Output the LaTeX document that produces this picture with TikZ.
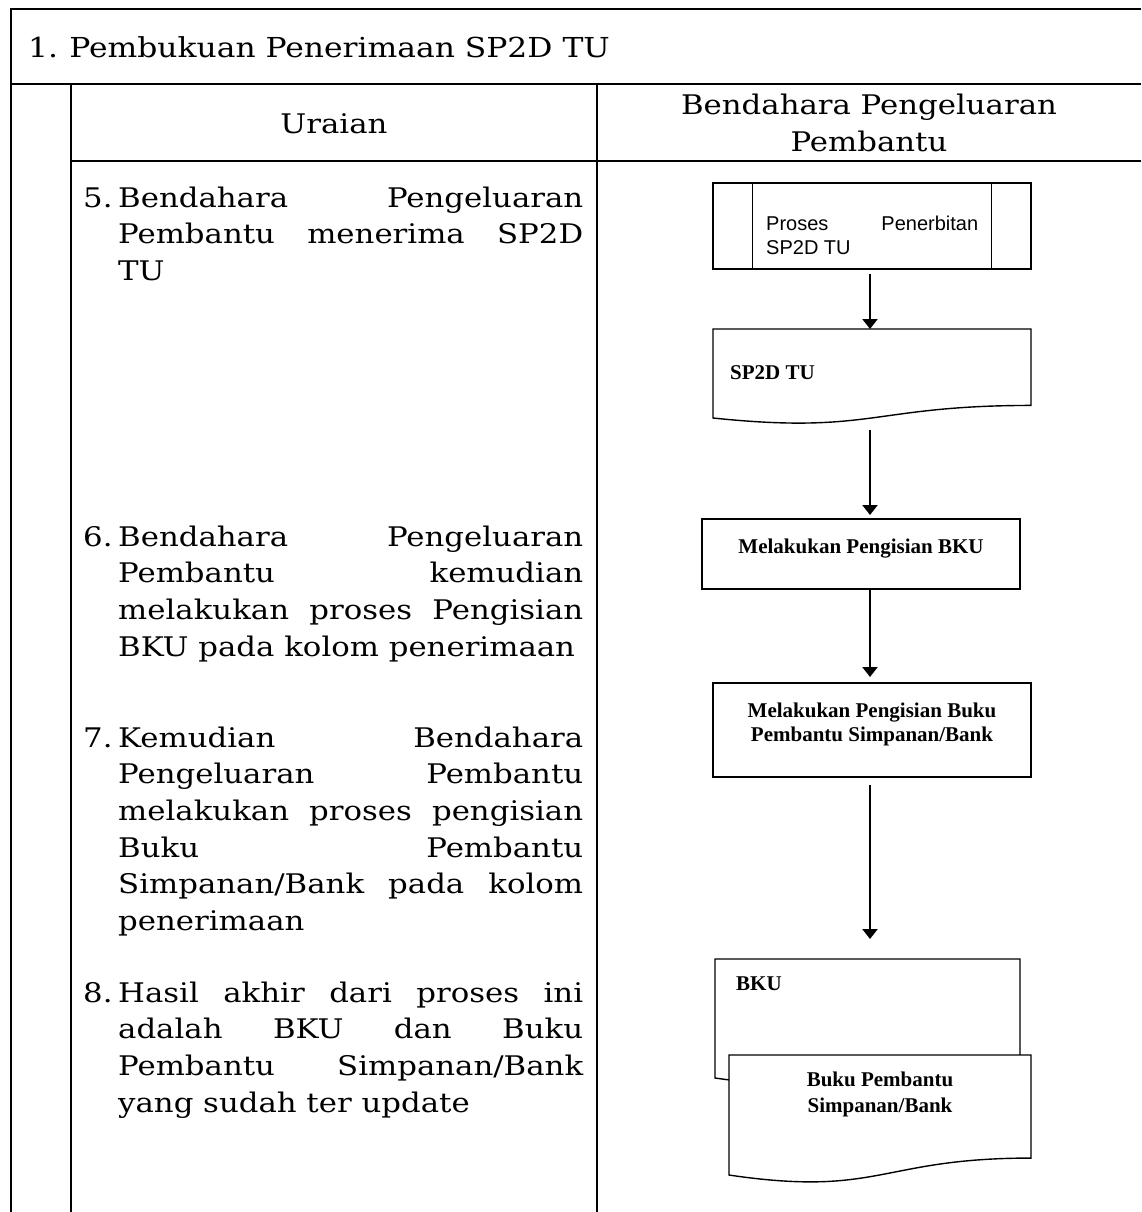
\documentclass[tikz,border=0pt]{standalone}
\usepackage{fontspec}
\setmainfont{DejaVu Serif}[FakeStretch=1.14]
\newfontfamily\arialf{Liberation Sans}
\newfontfamily\timesf{Liberation Serif}
\usetikzlibrary{arrows.meta,calc}
\newcommand\itemtext[2]{\parbox[t]{500pt}{\hyphenpenalty=10000\exhyphenpenalty=10000
  \hangindent=35pt\hangafter=1\noindent\makebox[35pt][l]{#1}#2\par}}
\newcommand\docpath[1]{%
  \draw[shapeline,fill=white] (#1.north west) -- (#1.north east)
    -- ($(#1.north east)!0.802!(#1.south east)$)
    .. controls ($(#1.north)!0.802!(#1.south)$) and ($(#1.north)!1.1075!(#1.south)$)
    .. ($(#1.north west)!0.934!(#1.south west)$) -- cycle;}
\tikzset{
  tableline/.style={line width=2pt},
  shapeline/.style={line width=1.4pt},
  arr/.style={line width=2.2pt,-{Triangle[length=10pt,width=15pt]}},
  boxnode/.style={inner sep=0pt,outer sep=0pt},
  bodyfont/.style={font=\fontsize{27}{36.7}\selectfont},
  boldfont/.style={font=\timesf\bfseries\fontsize{21}{24}\selectfont},
}
\begin{document}
\begin{tikzpicture}[x=1pt,y=-1pt]
\useasboundingbox (0,0) rectangle (1141,1212);
% table
\draw[tableline] (11,1212) -- (11,9) -- (1141,9);
\draw[tableline] (11,84) -- (1141,84);
\draw[tableline] (71,161) -- (1141,161);
\draw[tableline] (71,84) -- (71,1212);
\draw[tableline] (597,84) -- (597,1212);
% title and headers
\node[anchor=base west,inner sep=0,font=\fontsize{27.5}{35}\selectfont] (title) at (28,58) {1.\kern-2pt{} Pembukuan Penerimaan SP2D TU};
\node[anchor=base,inner sep=0,bodyfont] (h1) at (334,133) {Uraian};
\node[anchor=base,inner sep=0,bodyfont] (h2) at (869,115) {\parbox[t]{520pt}{\centering Bendahara Pengeluaran\\Pembantu\par}};
% descriptions
\node[anchor=base west,inner sep=0,bodyfont] (u5) at (83,207) {\itemtext{5.}{Bendahara Pengeluaran\linebreak Pembantu menerima SP2D\linebreak TU}};
\node[anchor=base west,inner sep=0,bodyfont] (u6) at (83,546) {\itemtext{6.}{Bendahara Pengeluaran\linebreak Pembantu kemudian\linebreak melakukan proses Pengisian\linebreak BKU pada kolom penerimaan}};
\node[anchor=base west,inner sep=0,bodyfont] (u7) at (83,747) {\itemtext{7.}{Kemudian Bendahara\linebreak Pengeluaran Pembantu\linebreak melakukan proses pengisian\linebreak Buku Pembantu\linebreak Simpanan/Bank pada kolom\linebreak penerimaan}};
\node[anchor=base west,inner sep=0,bodyfont] (u8) at (83,1002) {\itemtext{8.}{Hasil akhir dari proses ini\linebreak adalah BKU dan Buku\linebreak Pembantu Simpanan/Bank\linebreak yang sudah ter update}};
% flow chart
\coordinate (ax) at (870,0);
\node[boxnode,draw,shapeline,minimum width=318pt,minimum height=86pt] (P) at (872,226) {};
\draw[shapeline] ($(P.north west)+(39.75,0)$) -- ($(P.south west)+(39.75,0)$);
\draw[shapeline] ($(P.north east)+(-39.75,0)$) -- ($(P.south east)+(-39.75,0)$);
\node[anchor=base west,inner sep=0,font=\arialf\fontsize{20}{24}\selectfont] (Pt) at (766,230) {\parbox[t]{212pt}{Proses Penerbitan\linebreak SP2D TU\par}};

\node[boxnode,minimum width=318pt,minimum height=95.3pt] (D1) at (872,376.65) {};
\docpath{D1}
\node[anchor=base west,inner sep=0,boldfont] (D1t) at (730,379) {SP2D TU};

\node[boxnode,draw,shapeline,minimum width=318pt,minimum height=70pt] (R1) at (861,554) {};
\node[anchor=base,inner sep=0,boldfont] (R1t) at (861,553) {Melakukan Pengisian BKU};

\node[boxnode,draw,shapeline,minimum width=318pt,minimum height=94pt] (R2) at (872,730) {};
\node[anchor=base,inner sep=0,boldfont] (R2t) at (872,717) {\parbox[t]{300pt}{\centering Melakukan Pengisian Buku\\Pembantu Simpanan/Bank\par}};

\node[boxnode,minimum width=305pt,minimum height=127.4pt] (D2) at (867.5,1022.7) {};
\docpath{D2}
\node[anchor=base west,inner sep=0,boldfont] (D2t) at (736,990) {BKU};
\node[boxnode,minimum width=302pt,minimum height=128.5pt] (D3) at (880,1119.25) {};
\docpath{D3}
\node[anchor=base,inner sep=0,font=\timesf\bfseries\fontsize{21}{26}\selectfont] (D3t) at (880,1086) {\parbox[t]{300pt}{\centering Buku Pembantu\\Simpanan/Bank\par}};

% connectors
\draw[arr,shorten <=5pt] (P.south -| ax) -- (D1.north -| ax);
\draw[arr,shorten <=6pt,shorten >=4pt] (D1.south -| ax) -- (R1.north -| ax);
\draw[arr,shorten >=6pt] (R1.south -| ax) -- (R2.north -| ax);
\draw[arr,shorten <=8pt,shorten >=20pt] (R2.south -| ax) -- (D2.north -| ax);
\end{tikzpicture}
\end{document}
